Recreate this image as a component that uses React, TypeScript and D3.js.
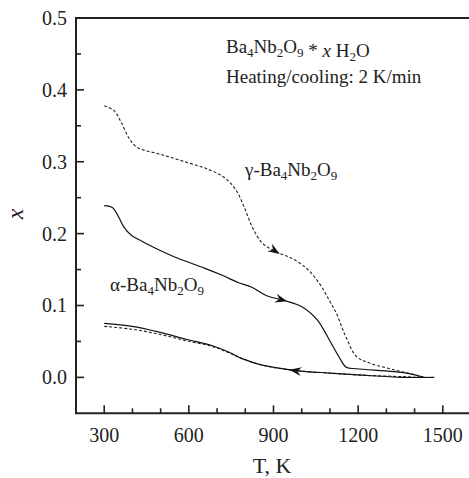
import React from 'react';
import * as d3 from 'd3';

// heating curve, gamma phase (dashed)
const gammaHeatT = [300, 335, 360, 389, 417, 502, 594, 665, 726, 768, 796, 825, 860, 913, 963, 1016, 1062, 1098, 1123, 1144, 1158, 1194, 1240, 1364, 1406, 1417];
const gammaHeatX = [0.378, 0.371, 0.355, 0.332, 0.32, 0.31, 0.299, 0.29, 0.278, 0.26, 0.237, 0.209, 0.187, 0.174, 0.166, 0.152, 0.131, 0.107, 0.089, 0.068, 0.055, 0.029, 0.02, 0.007, 0.003, 0.0];

// heating curve, alpha phase (solid)
const alphaHeatT = [300, 330, 350, 370, 395, 430, 480, 559, 655, 718, 775, 825, 874, 938, 1002, 1055, 1098, 1133, 1158, 1194, 1371, 1435];
const alphaHeatX = [0.239, 0.236, 0.224, 0.209, 0.198, 0.19, 0.18, 0.166, 0.152, 0.142, 0.132, 0.125, 0.114, 0.107, 0.098, 0.08, 0.052, 0.028, 0.014, 0.012, 0.006, 0.0];

// cooling curves
const alphaCoolT = [300, 399, 495, 591, 683, 743, 789, 860, 967, 1016, 1098, 1215, 1357, 1470];
const alphaCoolX = [0.075, 0.071, 0.063, 0.053, 0.044, 0.035, 0.026, 0.017, 0.01, 0.008, 0.006, 0.003, 0.0, 0.0];
const gammaCoolT = [300, 399, 495, 591, 683, 743, 789, 860, 967, 1098, 1215, 1357, 1420];
const gammaCoolX = [0.071, 0.067, 0.06, 0.051, 0.043, 0.034, 0.026, 0.017, 0.01, 0.006, 0.003, 0.001, 0.0];

const xMajor = [300, 600, 900, 1200, 1500];
const xMinor = [400, 500, 700, 800, 1000, 1100, 1300, 1400];
const yMajor = [0.0, 0.1, 0.2, 0.3, 0.4, 0.5];
const yMinor = [0.05, 0.15, 0.25, 0.35, 0.45];

const W = 469;
const H = 478;
const font =
  "'Liberation Serif', Tinos, 'Times New Roman', Times, 'Nimbus Roman', 'Nimbus Roman No9 L', FreeSerif, 'Noto Serif', 'DejaVu Serif', serif";

const x = d3.scaleLinear().domain([200, 1600]).range([76, 471]);
const y = d3.scaleLinear().domain([-0.05, 0.5]).range([413.3, 18]);

const line = d3
  .line<[number, number]>()
  .x(d => x(d[0]))
  .y(d => y(d[1]))
  .curve(d3.curveCatmullRom.alpha(0.5));

const pts = (ts: number[], xs: number[]) => ts.map((t, i) => [t, xs[i]] as [number, number]);

// arrow head at temperature t on a curve, pointing left or right
function arrow(ts: number[], xs: number[], t: number, dir: number) {
  const i = Math.max(1, d3.bisectLeft(ts, t));
  const k = (t - ts[i - 1]) / (ts[i] - ts[i - 1]);
  const v = xs[i - 1] + k * (xs[i] - xs[i - 1]);
  const dx = (x(ts[i]) - x(ts[i - 1])) * dir;
  const dy = (y(xs[i]) - y(xs[i - 1])) * dir;
  const ang = (Math.atan2(dy, dx) * 180) / Math.PI;
  return (
    <path
      transform={`translate(${x(t)},${y(v)}) rotate(${ang})`}
      d="M3,0 L-9,-4.5 L-5,0 L-9,4.5 Z"
      fill="#111"
    />
  );
}

const Formula = ({ pre = '' }: { pre?: string }) => (
  <>
    {pre}Ba<tspan fontSize={13} dy={4}>4</tspan>
    <tspan dy={-4}>Nb</tspan>
    <tspan fontSize={13} dy={4}>2</tspan>
    <tspan dy={-4}>O</tspan>
    <tspan fontSize={13} dy={4}>9</tspan>
  </>
);

export default function App() {
  return (
    <svg width={W} height={H} style={{ position: 'absolute', left: 0, top: 0, background: '#fff', fontFamily: font }}>
      {/* frame */}
      <path
        d={`M${x(1600)},${y(0.5)} H${x(200)} V${y(-0.05)} H${x(1600)}`}
        fill="none"
        stroke="#222"
        strokeWidth={2}
      />
      <line x1={x(1600)} x2={x(1600)} y1={y(0.5)} y2={y(-0.05)} stroke="#222" strokeWidth={2} />

      {/* ticks */}
      {xMajor.map(t => (
        <line key={'xM' + t} x1={x(t)} x2={x(t)} y1={y(-0.05)} y2={y(-0.05) - 8} stroke="#222" strokeWidth={1.6} />
      ))}
      {xMinor.map(t => (
        <line key={'xm' + t} x1={x(t)} x2={x(t)} y1={y(-0.05)} y2={y(-0.05) - 5} stroke="#222" strokeWidth={1.6} />
      ))}
      {yMajor.map(t => (
        <line key={'yM' + t} x1={x(200)} x2={x(200) + 8} y1={y(t)} y2={y(t)} stroke="#222" strokeWidth={1.6} />
      ))}
      {yMinor.map(t => (
        <line key={'ym' + t} x1={x(200)} x2={x(200) + 5} y1={y(t)} y2={y(t)} stroke="#222" strokeWidth={1.6} />
      ))}

      {/* tick labels */}
      {xMajor.map(t => (
        <text key={'xl' + t} x={x(t)} y={442} fontSize={20} textAnchor="middle" fill="#222">
          {t}
        </text>
      ))}
      {yMajor.map(t => (
        <text key={'yl' + t} x={67} y={y(t) + 7} fontSize={20} textAnchor="end" fill="#222">
          {t.toFixed(1)}
        </text>
      ))}

      {/* axis titles */}
      <text x={272} y={473} fontSize={22} textAnchor="middle" fill="#222">
        T, K
      </text>
      <text
        transform={`translate(23,214) rotate(-90)`}
        fontSize={24}
        fontStyle="italic"
        textAnchor="middle"
        fill="#222"
      >
        x
      </text>

      {/* curves */}
      <path d={line(pts(gammaHeatT, gammaHeatX)) || ''} fill="none" stroke="#222" strokeWidth={1.1} strokeDasharray="3,2" />
      <path d={line(pts(alphaHeatT, alphaHeatX)) || ''} fill="none" stroke="#111" strokeWidth={1.2} />
      <path d={line(pts(gammaCoolT, gammaCoolX)) || ''} fill="none" stroke="#222" strokeWidth={1.1} strokeDasharray="3,2" />
      <path d={line(pts(alphaCoolT, alphaCoolX)) || ''} fill="none" stroke="#111" strokeWidth={1.2} />

      {arrow(gammaHeatT, gammaHeatX, 913, 1)}
      {arrow(alphaHeatT, alphaHeatX, 938, 1)}
      {arrow(alphaCoolT, alphaCoolX, 967, -1)}

      {/* annotations */}
      <text x={226} y={53} fontSize={19} fill="#222">
        <Formula />
        <tspan> * </tspan>
        <tspan fontStyle="italic">x</tspan>
        <tspan> H</tspan>
        <tspan fontSize={13} dy={4}>2</tspan>
        <tspan dy={-4}>O</tspan>
      </text>
      <text x={226} y={83} fontSize={19} fill="#222">
        Heating/cooling: 2 K/min
      </text>
      <text x={245} y={176} fontSize={19} fill="#222">
        <Formula pre="γ-" />
      </text>
      <text x={110} y={291} fontSize={19} fill="#222">
        <Formula pre="α-" />
      </text>
    </svg>
  );
}
